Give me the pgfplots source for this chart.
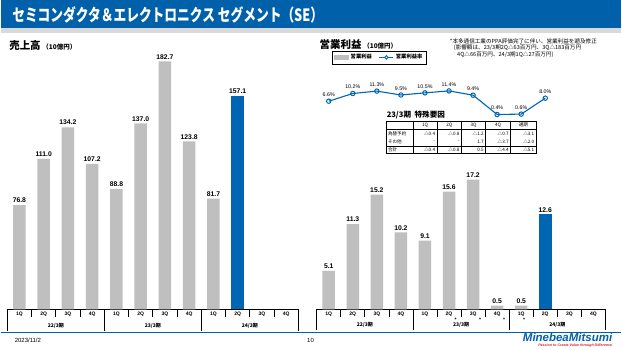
\documentclass[border=0pt]{standalone}
\usepackage{pgfplots}
\pgfplotsset{compat=1.18}
\usepackage{fontspec}
\usepackage{graphicx}
\setmainfont{Liberation Sans}
\newfontfamily\cjk{Noto Sans CJK JP}
\definecolor{mmblue}{RGB}{0,96,170}
\definecolor{barblue}{RGB}{0,102,179}
\definecolor{bargray}{RGB}{191,191,191}
\definecolor{stripe}{RGB}{217,217,217}
\definecolor{tagred}{RGB}{215,30,40}
\tikzset{seps/.style={line width=0.7pt}}
\pgfplotsset{
  segbars/.style={
    scale only axis, xmin=0.5, xmax=12.5, ymin=0,
    hide y axis, axis x line*=bottom,
    x axis line style={-, black, line width=0.7pt},
    xtick={1,...,12},
    xticklabels={1Q,2Q,3Q,4Q,1Q,2Q,3Q,4Q,1Q,2Q,3Q,4Q},
    major tick length=0pt,
    xticklabel style={font=\fontsize{5}{6}\selectfont\bfseries, inner sep=2.2pt},
    ybar, clip=false,
    nodes near coords,
    every node near coord/.append style={font=\fontsize{6.8}{7}\selectfont\bfseries, text=black, inner sep=2pt},
    /pgf/number format/fixed, /pgf/number format/fixed zerofill,
    /pgf/number format/precision=1, /pgf/number format/assume math mode=true,
  },
}
\begin{document}
\begin{tikzpicture}[x=1pt,y=1pt]
\fill[white] (0,0) rectangle (622,-350);
\fill[mmblue] (0,0) rectangle (622,-28.5);
\fill[stripe] (0,-28.5) rectangle (622,-33);
\node[anchor=west,text=white,inner sep=0] at (11.5,-14.5) {\scalebox{0.75}[1]{\cjk\bfseries\fontsize{17}{17}\selectfont セミコンダクタ＆エレクトロニクス セグメント（SE）}};

% headings
\node[anchor=west,inner sep=0] at (8.5,-46) {\cjk\bfseries\fontsize{10.5}{11}\selectfont 売上高\,\fontsize{6.5}{7}\selectfont（10億円）};
\node[anchor=west,inner sep=0] at (319.5,-45) {\cjk\bfseries\fontsize{10.5}{11}\selectfont 営業利益\,\fontsize{6.5}{7}\selectfont（10億円）};

% note
\begin{scope}[every node/.style={anchor=west,inner sep=0,font=\cjk\fontsize{5.6}{6}\selectfont}]
\node at (450,-41) {*本多通信工業のPPA評価完了に伴い、営業利益を遡及修正};
\node at (454,-48) {(影響額は、23/3期2Q△63百万円、3Q△183百万円};
\node at (457.3,-54.5) {4Q△66百万円、24/3期1Q△27百万円)};
\end{scope}

% ---------- Left: sales ----------
\begin{axis}[segbars, at={(6.7pt,-310pt)}, anchor=south west,
  width=291.6pt, height=260pt, ymax=191.2]
\addplot[fill=bargray, draw=none, bar width=12.5pt, bar shift=0pt] coordinates {
 (1,76.8) (2,111.0) (3,134.2) (4,107.2) (5,88.8) (6,137.0) (7,182.7) (8,123.8) (9,81.7)};
\addplot[fill=barblue, draw=none, bar width=12.5pt, bar shift=0pt] coordinates {(10,157.1)};
\draw[seps] (axis cs:0.5,0) -- ++(0pt,-22pt);
\draw[seps] (axis cs:4.5,0) -- ++(0pt,-22pt);
\draw[seps] (axis cs:8.5,0) -- ++(0pt,-22pt);
\draw[seps] (axis cs:12.5,0) -- ++(0pt,-22pt);
\draw[seps] (axis cs:1.5,0) -- ++(0pt,-8pt);
\draw[seps] (axis cs:2.5,0) -- ++(0pt,-8pt);
\draw[seps] (axis cs:3.5,0) -- ++(0pt,-8pt);
\draw[seps] (axis cs:5.5,0) -- ++(0pt,-8pt);
\draw[seps] (axis cs:6.5,0) -- ++(0pt,-8pt);
\draw[seps] (axis cs:7.5,0) -- ++(0pt,-8pt);
\draw[seps] (axis cs:9.5,0) -- ++(0pt,-8pt);
\draw[seps] (axis cs:10.5,0) -- ++(0pt,-8pt);
\draw[seps] (axis cs:11.5,0) -- ++(0pt,-8pt);
\node[font=\cjk\bfseries\fontsize{5}{6}\selectfont] at ([yshift=-16.5pt]axis cs:2.5,0) {22/3期};
\node[font=\cjk\bfseries\fontsize{5}{6}\selectfont] at ([yshift=-16.5pt]axis cs:6.5,0) {23/3期};
\node[font=\cjk\bfseries\fontsize{5}{6}\selectfont] at ([yshift=-16.5pt]axis cs:10.5,0) {24/3期};
\end{axis}

% ---------- Right: operating income ----------
\begin{axis}[segbars, at={(316.7pt,-310pt)}, anchor=south west,
  width=289.3pt, height=140pt, ymax=18.52]
\addplot[fill=bargray, draw=none, bar width=12.5pt, bar shift=0pt] coordinates {
 (1,5.1) (2,11.3) (3,15.2) (4,10.2) (5,9.1) (6,15.6) (7,17.2) (8,0.5) (9,0.5)};
\addplot[fill=barblue, draw=none, bar width=12.5pt, bar shift=0pt] coordinates {(10,12.6)};
\draw[seps] (axis cs:0.5,0) -- ++(0pt,-21pt);
\draw[seps] (axis cs:4.5,0) -- ++(0pt,-21pt);
\draw[seps] (axis cs:8.5,0) -- ++(0pt,-21pt);
\draw[seps] (axis cs:12.5,0) -- ++(0pt,-21pt);
\draw[seps] (axis cs:1.5,0) -- ++(0pt,-8pt);
\draw[seps] (axis cs:2.5,0) -- ++(0pt,-8pt);
\draw[seps] (axis cs:3.5,0) -- ++(0pt,-8pt);
\draw[seps] (axis cs:5.5,0) -- ++(0pt,-8pt);
\draw[seps] (axis cs:6.5,0) -- ++(0pt,-8pt);
\draw[seps] (axis cs:7.5,0) -- ++(0pt,-8pt);
\draw[seps] (axis cs:9.5,0) -- ++(0pt,-8pt);
\draw[seps] (axis cs:10.5,0) -- ++(0pt,-8pt);
\draw[seps] (axis cs:11.5,0) -- ++(0pt,-8pt);
\node[font=\cjk\bfseries\fontsize{5}{6}\selectfont] at ([yshift=-15.5pt]axis cs:2.5,0) {22/3期};
\node[font=\cjk\bfseries\fontsize{5}{6}\selectfont] at ([yshift=-15.5pt]axis cs:6.5,0) {23/3期};
\node[font=\cjk\bfseries\fontsize{5}{6}\selectfont] at ([yshift=-15.5pt]axis cs:10.5,0) {24/3期};
\node[font=\fontsize{5}{6}\selectfont\bfseries] at ([xshift=6.5pt,yshift=-10pt]axis cs:6,0) {*};
\node[font=\fontsize{5}{6}\selectfont\bfseries] at ([xshift=7pt,yshift=-10pt]axis cs:7,0) {*};
\node[font=\fontsize{5}{6}\selectfont\bfseries] at ([xshift=7pt,yshift=-10pt]axis cs:8,0) {*};
\node[font=\fontsize{5}{6}\selectfont\bfseries] at ([xshift=3pt,yshift=-10pt]axis cs:9,0) {*};
\end{axis}

% ---------- Right: margin line ----------
\begin{axis}[at={(316.7pt,-115.6pt)}, anchor=south west, scale only axis,
  width=289.3pt, height=30pt, xmin=0.5, xmax=12.5, ymin=0, ymax=13.95,
  hide axis, clip=false,
  legend columns=2,
  legend style={at={(0.2166,1.937)}, anchor=center, draw=black, line width=0.7pt,
    font=\cjk\bfseries\fontsize{5.3}{6}\selectfont, inner sep=1.5pt,
    /tikz/every even column/.append style={column sep=5pt}},
  /pgf/number format/fixed, /pgf/number format/fixed zerofill,
  /pgf/number format/precision=1, /pgf/number format/assume math mode=true,
]
\addlegendimage{legend image code/.code={\fill[bargray] (0pt,-2.2pt) rectangle (14pt,2.2pt);}}
\addlegendentry{営業利益}
\addplot[barblue, line width=1.1pt, mark=o, mark size=2.2pt,
  mark options={fill=white, line width=1pt},
  legend image code/.code={\draw[barblue, line width=1.1pt] (0pt,0pt) -- (14pt,0pt); \draw[barblue, fill=white, line width=0.9pt] (7pt,0pt) circle (1.8pt);},
  nodes near coords={\pgfmathprintnumber{\pgfplotspointmeta}\%},
  every node near coord/.append style={font=\fontsize{5.3}{6}\selectfont, text=black, inner sep=1pt, yshift=3pt}]
 coordinates {(1,6.6) (2,10.2) (3,11.3) (4,9.5) (5,10.5) (6,11.4) (7,9.4) (8,0.4) (9,0.6) (10,8.0)};
\addlegendentry{営業利益率}
\end{axis}

% ---------- special factors table ----------
\node[anchor=west,inner sep=0,font=\cjk\bfseries\fontsize{7.6}{8}\selectfont] at (386.7,-115) {23/3期\ \ 特殊要因};
\draw[line width=0.7pt] (386.7,-121.7) rectangle (536.7,-154);
\draw[line width=0.7pt] (386.7,-129.3) -- (536.7,-129.3);
\draw[line width=0.7pt] (386.7,-146.7) -- (536.7,-146.7);
\foreach \xx in {413.3,437.3,461.7,486,511} \draw[line width=0.7pt] (\xx,-121.7) -- (\xx,-154);
\begin{scope}[every node/.style={inner sep=0,font=\cjk\fontsize{4.6}{5}\selectfont}]
\node at (425.3,-125.5) {1Q};
\node at (449.5,-125.5) {2Q};
\node at (473.8,-125.5) {3Q};
\node at (498.5,-125.5) {4Q};
\node at (523.8,-125.5) {通期};
\node[anchor=west] at (388,-134) {為替予約};
\node[anchor=west] at (388,-141.7) {その他};
\node[anchor=west] at (388,-150.3) {合計};
\node[anchor=east] at (435.5,-134) {△0.4};
\node[anchor=east] at (459.9,-134) {△0.8};
\node[anchor=east] at (484.2,-134) {△1.2};
\node[anchor=east] at (509.2,-134) {△0.7};
\node[anchor=east] at (534.9,-134) {△3.1};
\node[anchor=east] at (435.5,-141.7) {-};
\node[anchor=east] at (459.9,-141.7) {-};
\node[anchor=east] at (484.2,-141.7) {1.7};
\node[anchor=east] at (509.2,-141.7) {△3.7};
\node[anchor=east] at (534.9,-141.7) {△2.0};
\node[anchor=east] at (435.5,-150.3) {△0.4};
\node[anchor=east] at (459.9,-150.3) {△0.8};
\node[anchor=east] at (484.2,-150.3) {0.5};
\node[anchor=east] at (509.2,-150.3) {△4.4};
\node[anchor=east] at (534.9,-150.3) {△5.1};
\end{scope}

% ---------- footer ----------
\draw[mmblue, line width=1.2pt] (0,-333) -- (622,-333);
\node[anchor=west,inner sep=0,font=\fontsize{6}{7}\selectfont] at (14,-341.5) {2023/11/2};
\node[anchor=west,inner sep=0,font=\fontsize{6}{7}\selectfont] at (307,-341.5) {10};
\node[anchor=east,inner sep=0,text=mmblue,font=\fontsize{11.5}{12}\selectfont\bfseries\itshape] at (613,-338.5) {MinebeaMitsumi};
\node[anchor=east,inner sep=0,text=tagred,font=\fontsize{3.6}{4}\selectfont\bfseries\itshape] at (613,-346.3) {Passion to Create Value through Difference};
\end{tikzpicture}
\end{document}
